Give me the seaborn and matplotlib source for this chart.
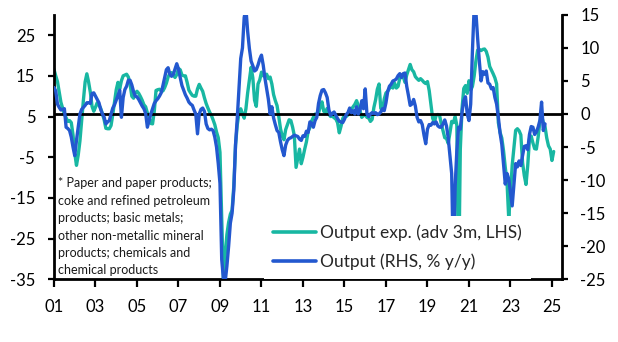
import numpy as np
import matplotlib
matplotlib.use("Agg")
import matplotlib.pyplot as plt
import seaborn as sns

# ---------------- data (monthly, starting Jan 2001) ----------------
start_year = 2001
# Output expectations (adv 3m, LHS)
output_exp = [
    16.6, 15.0, 13.6, 11.0, 8.5, 7.0, 5.6, 4.7, 3.8, 4.0, 3.5, 0.5,          # 2001
    -4.0, -7.0, -4.5, -1.0, 4.0, 9.0, 13.5, 15.5, 13.5, 11.0, 7.5, 6.3,      # 2002
    7.3, 8.4, 7.8, 7.0, 5.7, 4.2, 2.1, 2.0, 2.0, 2.8, 5.5, 8.6,              # 2003
    11.6, 13.4, 11.8, 13.8, 15.0, 15.2, 15.4, 14.7, 13.0, 10.0, 9.5, 10.8,   # 2004
    11.2, 10.7, 9.9, 9.0, 7.9, 7.4, 5.9, 4.8, 3.3, 3.2, 6.3, 11.4,           # 2005
    11.6, 11.7, 11.3, 11.3, 12.1, 13.2, 14.7, 15.6, 15.8, 15.2, 14.6, 15.3,  # 2006
    16.8, 16.5, 15.2, 15.0, 15.0, 13.4, 11.5, 10.8, 10.2, 10.0, 10.0, 11.8,  # 2007
    12.9, 12.0, 11.2, 9.6, 8.2, 7.1, 6.1, 5.3, 4.2, 3.0, 1.2, -0.2,          # 2008
    -3.8, -20.0, -35.0, -29.0, -24.0, -21.0, -19.0, -18.0, -12.0, -2.0, 3.0, 5.9,  # 2009
    6.9, 5.6, 4.6, 6.9, 10.8, 14.0, 17.1, 14.5, 9.0, 7.5, 13.0, 14.0,        # 2010
    15.9, 15.0, 15.0, 15.4, 14.3, 14.7, 13.0, 10.4, 8.9, 7.7, 5.0, 2.0,      # 2011
    0.2, -0.7, 1.8, 3.0, 4.2, 4.0, 2.4, 0.3, -7.5, -5.3, -3.0, -6.6,         # 2012
    -5.0, -3.0, -1.2, 1.4, 2.3, 3.9, 4.8, 5.6, 5.6, 5.8, 7.5, 8.6,           # 2013
    6.3, 6.0, 7.0, 5.5, 5.0, 5.1, 4.7, 4.4, 3.5, 1.0, 2.6, 4.5,              # 2014
    5.3, 5.0, 5.4, 6.2, 6.8, 7.4, 8.0, 8.9, 7.7, 6.4, 4.8, 5.2,              # 2015
    5.5, 4.8, 4.7, 3.8, 4.3, 7.2, 9.1, 11.7, 13.0, 7.0, 6.6, 9.3,            # 2016
    10.8, 11.2, 11.9, 12.5, 12.0, 13.2, 12.0, 12.4, 14.5, 15.2, 14.8, 13.4,  # 2017
    15.2, 16.5, 17.8, 16.5, 16.0, 14.8, 14.3, 13.9, 14.3, 13.9, 13.4, 13.1,  # 2018
    13.6, 11.4, 8.0, 4.6, 3.5, 5.3, 5.5, 5.3, 3.2, 1.5, -0.2, -0.4,          # 2019
    -1.6, 1.0, 3.8, 3.5, 5.0, 2.8, -37.0, -3.0, 7.0, 11.9, 12.6, 10.7,       # 2020
    13.8, 11.5, 12.4, 14.9, 18.6, 21.3, 21.5, 21.2, 21.5, 21.6, 21.0, 19.6,  # 2021
    17.3, 16.4, 15.5, 14.5, 13.0, 3.5, 1.1, -0.3, -3.4, -7.5, -11.0, -20.0,  # 2022
    -14.0, -7.0, -2.6, 1.6, 2.0, 1.5, 0.5, -6.3, -9.5, -11.7, -7.0, -0.5,    # 2023
    0.2, -1.5, -2.9, -3.0, -0.1, 3.6, 5.1, 3.6, 2.5, -0.3, -2.2, -3.0,       # 2024
    -5.8, -3.6,                                                              # 2025
]
# Output (RHS, % y/y)
output_yoy = [
    4.0, 3.5, 1.5, 1.0, 0.6, 0.7, 0.8, -2.0, -2.2, -2.5, -3.5, -5.0,         # 2001
    -6.3, -4.0, -2.0, 0.0, 0.7, 1.0, 1.3, 1.7, 1.7, 1.6, 3.1, 3.2,           # 2002
    2.7, 2.2, 1.7, 0.7, 0.0, -0.5, -1.5, -1.2, -1.0, 0.0, 0.9, 1.4,          # 2003
    2.1, 2.8, 3.6, -0.5, 2.5, 3.7, 4.2, 5.1, 5.1, 4.4, 3.4, 2.7,             # 2004
    2.6, 2.2, 1.7, 1.2, 0.8, 0.1, -2.0, -1.0, 0.0, 0.8, 1.6, 2.0,            # 2005
    2.3, 2.7, 3.2, 4.3, 5.5, 6.7, 7.0, 6.0, 5.7, 6.0, 6.8, 7.6,              # 2006
    6.8, 5.5, 4.3, 3.6, 2.9, 2.4, 1.8, 1.5, 1.3, 0.6, 0.0, -3.0,             # 2007
    0.0, 0.7, 0.9, 0.4, -1.5, -2.2, -2.4, -2.3, -2.5, -3.5, -5.0, -7.5,      # 2008
    -10.5, -22.0, -25.0, -25.4, -23.0, -20.0, -16.5, -15.0, -11.5, -4.6, -0.6, 4.0,  # 2009
    8.4, 10.0, 14.6, 16.0, 12.5, 9.9, 8.0, 7.3, 6.5, 6.7, 7.4, 8.3,          # 2010
    8.9, 7.4, 5.4, 3.8, 2.2, 0.0, 1.1, -0.6, -1.6, -2.5, -2.8, -4.2,         # 2011
    -5.4, -6.3, -4.7, -4.0, -3.7, -3.6, -3.4, -3.2, -3.3, -3.4, -3.8, -4.0,  # 2012
    -3.3, -3.4, -2.6, -2.8, -1.2, -1.4, -2.0, -1.0, -0.5, 1.6, 2.8, 3.6,     # 2013
    3.7, 3.2, 2.5, 0.6, -0.2, 0.1, 0.3, -0.2, -0.7, -1.1, -1.2, -1.3,        # 2014
    -0.8, -0.1, 0.2, 0.9, 0.2, 0.5, 0.0, 1.1, 0.0, 0.6, 2.0, 0.8,            # 2015
    3.8, 0.0, -0.4, 0.0, 0.2, 0.1, 0.2, -0.1, 0.0, 0.3, 0.8, 0.5,            # 2016
    1.7, 3.4, 4.2, 4.5, 5.0, 5.1, 5.3, 5.8, 6.1, 5.5, 6.1, 6.2,              # 2017
    4.2, 2.8, 1.3, 1.5, 2.2, 1.2, -0.5, -1.2, -1.0, -1.6, -3.2, -4.5,        # 2018
    -2.3, -1.6, -1.7, -1.3, -1.5, -1.2, -1.8, -2.0, -2.0, -1.5, -0.9, -1.8,  # 2019
    -3.6, -6.3, -9.0, -22.5, -11.0, -5.5, -2.0, -2.3, 0.3, 2.0, 2.6, 0.0,    # 2020
    -1.0, 1.5, 9.5, 16.0, 15.5, 11.5, 8.0, 5.0, 6.4, 6.0, 6.5, 4.7,          # 2021
    4.5, 3.8, 4.0, 2.5, 1.5, -0.5, -2.9, -4.6, -7.6, -10.6, -9.0, -9.8,      # 2022
    -11.8, -13.9, -10.6, -7.5, -8.0, -7.1, -7.8, -6.3, -4.9, -4.8, -5.4, -3.1,  # 2023
    -1.9, -2.0, -3.1, -2.7, -2.0, -1.0, 1.8, -2.5, -1.5,                     # 2024
]

left_ticks = [-35, -25, -15, -5, 5, 15, 25]
right_ticks = [-25, -20, -15, -10, -5, 0, 5, 10, 15]
x_tick_years = list(range(2001, 2026, 2))
x_tick_labels = [f"{y % 100:02d}" for y in x_tick_years]
label_exp = "Output exp. (adv 3m, LHS)"
label_yoy = "Output (RHS, % y/y)"
note = ("* Paper and paper products;\ncoke and refined petroleum\nproducts; basic metals;\n"
        "other non-metallic mineral\nproducts; chemicals and\nchemical products")

TEAL = "#18B7A2"
BLUE = "#2358CF"

# ---------------- plot ----------------
sns.set_theme(style="white")
plt.rcParams["font.family"] = ["Lato", "DejaVu Sans"]
plt.rcParams["axes.unicode_minus"] = False

W, H = 618, 342
fig = plt.figure(figsize=(W / 100, H / 100), dpi=100)
x0, x1, ytop, ybot = 54, 561.7, 14.8, 279.3
ax = fig.add_axes([x0 / W, 1 - ybot / H, (x1 - x0) / W, (ybot - ytop) / H])
ax2 = ax.twinx()

t_exp = start_year + np.arange(len(output_exp)) / 12.0
t_yoy = start_year + np.arange(len(output_yoy)) / 12.0

sns.lineplot(x=t_exp, y=output_exp, ax=ax, color=TEAL, linewidth=2.4, legend=False)
ax2.axhline(0, color="black", linewidth=2.0, zorder=1)
sns.lineplot(x=t_yoy, y=output_yoy, ax=ax2, color=BLUE, linewidth=2.4, legend=False, zorder=2)

ax.set_xlim(2001.0, 2025.47)
ax.set_ylim(-35, 30)
ax2.set_ylim(-25, 15)

ax.set_xticks(x_tick_years)
ax.set_xticklabels(x_tick_labels)
ax.set_yticks(left_ticks)
ax.set_yticklabels([str(v) for v in left_ticks])
ax2.set_yticks(right_ticks)
ax2.set_yticklabels([str(v) for v in right_ticks])

for a in (ax, ax2):
    a.set_xlabel("")
    a.set_ylabel("")
    a.grid(False)
    for s in a.spines.values():
        s.set_visible(False)
ax.spines["left"].set_visible(True)
ax.spines["bottom"].set_visible(True)
ax2.spines["right"].set_visible(True)
for s in (ax.spines["left"], ax.spines["bottom"], ax2.spines["right"]):
    s.set_color("black")
    s.set_linewidth(2.0)

ax.tick_params(axis="y", direction="out", length=4.5, width=1.6, color="black",
               labelsize=12, pad=9, left=True, labelcolor="black")
ax.tick_params(axis="x", direction="out", length=5.5, width=1.6, color="black",
               labelsize=12, pad=9, bottom=True, labelcolor="black")
ax2.tick_params(axis="y", direction="out", length=4.5, width=1.6, color="black",
                labelsize=12, pad=9, right=True, labelcolor="black")

handles = [ax.lines[0], ax2.lines[-1]]
leg = ax2.legend(handles, [label_exp, label_yoy], loc="upper left",
                 bbox_to_anchor=(264 / W, 1 - 216 / H), bbox_transform=fig.transFigure,
                 frameon=True, facecolor="white", edgecolor="none", framealpha=1,
                 fancybox=False, borderpad=0.5, borderaxespad=0,
                 handlelength=2.5, handletextpad=0.25, labelspacing=0.72,
                 fontsize=12.5)
leg.set_zorder(10)
for lh in leg.get_lines():
    lh.set_linewidth(2.6)

fig.text(58 / W, 1 - 177 / H, note, ha="left", va="top", fontsize=9.0,
         linespacing=1.55, color="#1a1a1a")

fig.savefig("out.png", dpi=100)
